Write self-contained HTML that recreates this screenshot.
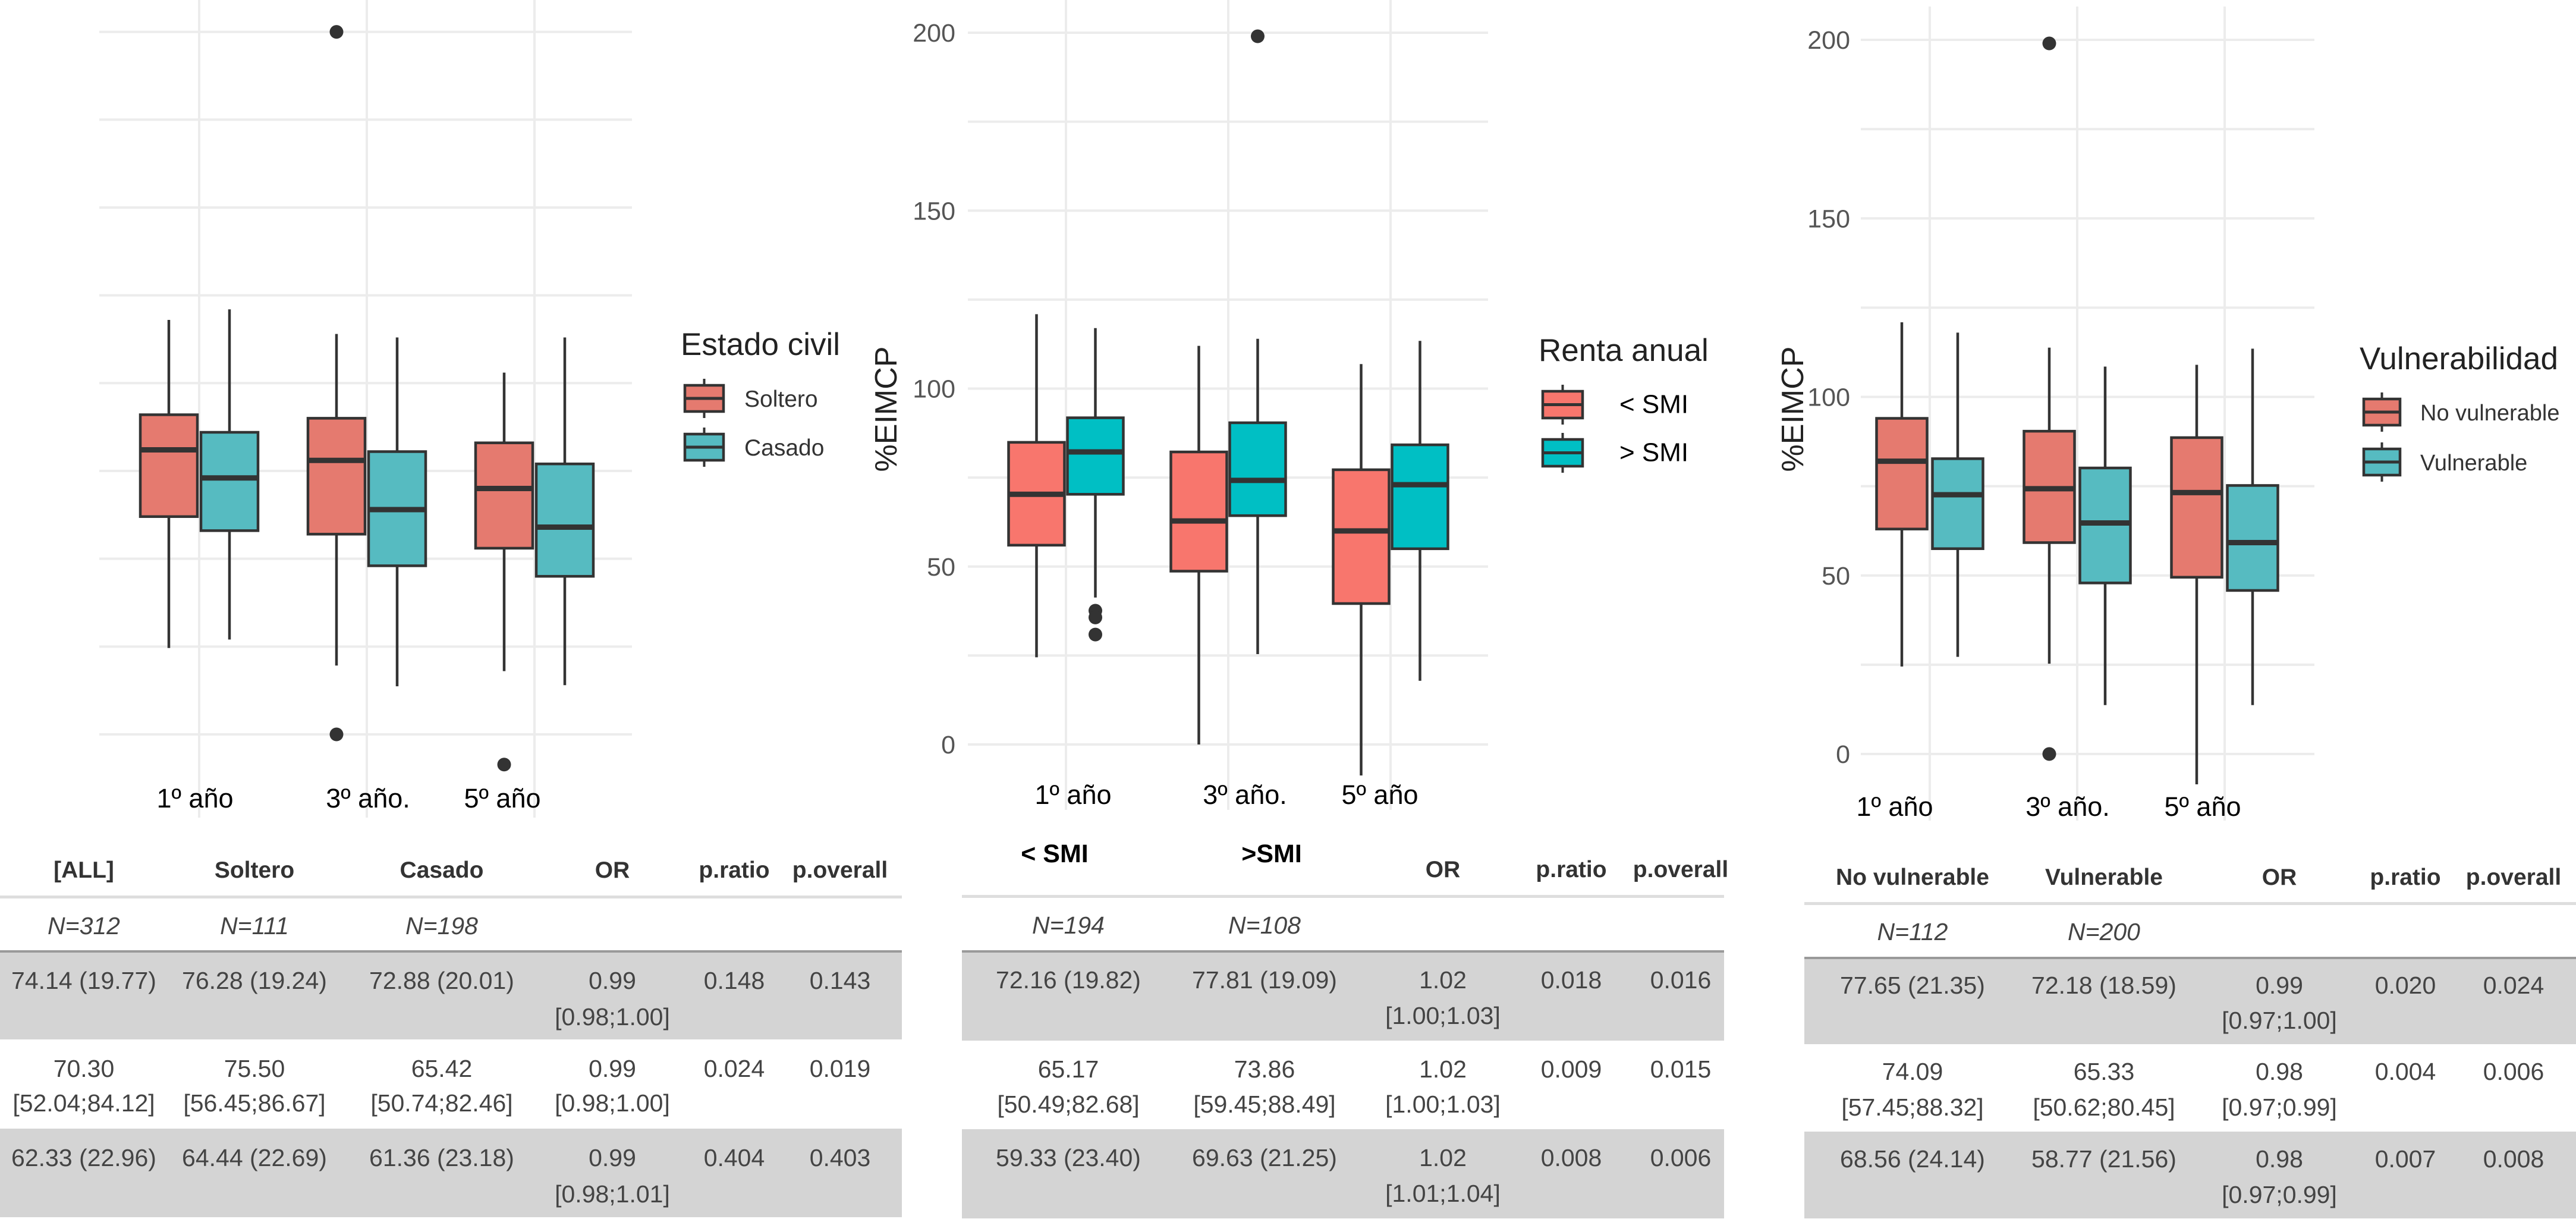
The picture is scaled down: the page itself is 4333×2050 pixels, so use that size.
<!DOCTYPE html>
<html><head><meta charset="utf-8">
<style>
html,body{margin:0;padding:0;background:#fff;}
svg{display:block;}
text{font-family:"Liberation Sans",Arial,sans-serif;}
</style></head>
<body>
<svg id="root" xmlns="http://www.w3.org/2000/svg" width="4333" height="2050" viewBox="0 0 4333 2050">
<rect x="0" y="0" width="4333" height="2050" fill="#fff"/>
<g id="charts"></g>
<g id="tables"></g>
</svg>
<script>
// ---- shared categories ----
const years = ["1º año", "3º año.", "5º año"];
const ticks = [0, 50, 100, 150, 200];
const gridVals = [0, 25, 50, 75, 100, 125, 150, 175, 200];

// ---- Panel 1: Estado civil ----
const p1Legend = ["Soltero", "Casado"];
const p1RedHi = [118, 114, 103];
const p1RedQ3 = [91, 90, 83];
const p1RedMed = [81, 78, 70];
const p1RedQ1 = [62, 57, 53];
const p1RedLo = [24.6, 19.6, 18];
const p1RedOutGroup = [1, 1, 2];
const p1RedOutVal = [200, 0, -8.6];
const p1TealHi = [121, 113, 113];
const p1TealQ3 = [86, 80.5, 77];
const p1TealMed = [73, 64, 59];
const p1TealQ1 = [58, 48, 45];
const p1TealLo = [27, 13.7, 14];
const p1TealOutGroup = [];
const p1TealOutVal = [];

// ---- Panel 2: Renta anual ----
const p2Legend = ["< SMI", "> SMI"];
const p2RedHi = [120.9, 112, 106.9];
const p2RedQ3 = [84.9, 82.2, 77.2];
const p2RedMed = [70.3, 62.8, 60];
const p2RedQ1 = [56, 48.7, 39.6];
const p2RedLo = [24.5, 0, -8.7];
const p2RedOutGroup = [];
const p2RedOutVal = [];
const p2TealHi = [117, 114, 113.4];
const p2TealQ3 = [91.8, 90.4, 84.2];
const p2TealMed = [82.2, 74.2, 73];
const p2TealQ1 = [70.3, 64.3, 55];
const p2TealLo = [41.3, 25.4, 17.9];
const p2TealOutGroup = [0, 0, 0, 1];
const p2TealOutVal = [37.6, 35.7, 30.9, 199];

// ---- Panel 3: Vulnerabilidad ----
const p3Legend = ["No vulnerable", "Vulnerable"];
const p3RedHi = [120.9, 113.8, 109];
const p3RedQ3 = [94, 90.4, 88.6];
const p3RedMed = [82, 74.3, 73.2];
const p3RedQ1 = [63, 59.2, 49.5];
const p3RedLo = [24.5, 25.3, -8.5];
const p3RedOutGroup = [1, 1];
const p3RedOutVal = [199, 0];
const p3TealHi = [118, 108.5, 113.5];
const p3TealQ3 = [82.7, 80.1, 75.2];
const p3TealMed = [72.6, 64.7, 59.2];
const p3TealQ1 = [57.5, 47.9, 45.8];
const p3TealLo = [27.2, 13.7, 13.7];
const p3TealOutGroup = [];
const p3TealOutVal = [];

const NS = "http://www.w3.org/2000/svg";
function mk(tag, attrs, parent) {
  const e = document.createElementNS(NS, tag);
  for (const k in attrs) e.setAttribute(k, attrs[k]);
  parent.appendChild(e);
  return e;
}
const charts = document.getElementById("charts");

function drawPanel(cfg) {
  const g = mk("g", {}, charts);
  
  
  const y = v => cfg.y0 + (cfg.y200 - cfg.y0) * v / 200;
  const gx = i => cfg.groupX[0] + i * (cfg.groupX[1] - cfg.groupX[0]);
  gridVals.forEach(v => {
    const l = mk("line", {x1: cfg.plotL, x2: cfg.plotR, y1: y(v), y2: y(v), stroke: "#ececec", "stroke-width": 4}, g);
    
    
  });
  years.forEach((yr, i) => {
    const l = mk("line", {x1: gx(i), x2: gx(i), y1: cfg.vTop, y2: cfg.vBot, stroke: "#ececec", "stroke-width": 4}, g);
    
    
  });
  if (cfg.showTicks) {
    ticks.forEach(v => {
      const t = mk("text", {x: cfg.tickX, y: y(v) + 15, "text-anchor": "end", "font-size": 43, fill: "#555"}, g);
      t.textContent = v;
      
      
    });
    const yt = mk("text", {x: 0, y: 0, transform: `translate(${cfg.titleX},${cfg.titleY}) rotate(-90)`, "text-anchor": "middle", "font-size": 52, fill: "#222"}, g);
    yt.textContent = "%EIMCP";
    
    
  }
  years.forEach((yr, i) => {
    const t = mk("text", {x: cfg.labelX[i], y: cfg.labelY, "text-anchor": "middle", "font-size": 45, fill: "#000"}, g);
    t.textContent = yr;
    
    
  });
  const series = [
    {off: -cfg.off, fill: cfg.red, hi: cfg.r[0], q3: cfg.r[1], med: cfg.r[2], q1: cfg.r[3], lo: cfg.r[4], og: cfg.r[5], ov: cfg.r[6], nm: "red"},
    {off: cfg.off, fill: cfg.teal, hi: cfg.t[0], q3: cfg.t[1], med: cfg.t[2], q1: cfg.t[3], lo: cfg.t[4], og: cfg.t[5], ov: cfg.t[6], nm: "teal"}
  ];
  series.forEach(s => {
    years.forEach((yr, i) => {
      const cx = gx(i) + s.off;
      const bg = mk("g", {}, g);
      
      
      const w1 = mk("line", {x1: cx, x2: cx, y1: y(s.hi[i]), y2: y(s.q3[i]), stroke: "#333", "stroke-width": 4.5}, bg);
      
      
      const w2 = mk("line", {x1: cx, x2: cx, y1: y(s.q1[i]), y2: y(s.lo[i]), stroke: "#333", "stroke-width": 4.5}, bg);
      
      
      const r = mk("rect", {x: cx - cfg.bw / 2, y: y(s.q3[i]), width: cfg.bw, height: y(s.q1[i]) - y(s.q3[i]), fill: s.fill, stroke: "#333", "stroke-width": 4.5}, bg);
      
      
      const m = mk("line", {x1: cx - cfg.bw / 2, x2: cx + cfg.bw / 2, y1: y(s.med[i]), y2: y(s.med[i]), stroke: "#333", "stroke-width": 9}, bg);
      
      
    });
    s.og.forEach((gi, k) => {
      const c = mk("circle", {cx: gx(gi) + s.off, cy: y(s.ov[k]), r: 11.5, fill: "#333"}, g);
      
      
    });
  });
  const lg = mk("g", {}, g);
  
  
  const tt = mk("text", {x: cfg.legX, y: cfg.legTitleY, "font-size": 53, fill: "#222"}, lg);
  tt.textContent = cfg.legTitle;
  
  
  [cfg.red, cfg.teal].forEach((col, k) => {
    const e = mk("g", {}, lg);
    
    
    const top = cfg.keyY[k], kx = cfg.keyX, kw = cfg.keyW, kh = cfg.keyH;
    const mx = kx + kw / 2;
    mk("line", {x1: mx, x2: mx, y1: top - 11, y2: top + kh + 11, stroke: "#333", "stroke-width": 4}, e);
    const kr = mk("rect", {x: kx, y: top, width: kw, height: kh, fill: col, stroke: "#333", "stroke-width": 4.5}, e);
    
    
    mk("line", {x1: kx, x2: kx + kw, y1: top + kh / 2, y2: top + kh / 2, stroke: "#333", "stroke-width": 5}, e);
    const lt = mk("text", {x: cfg.legLabelX, y: top + kh / 2 + 14, "font-size": cfg.legFont, fill: cfg.legColor}, e);
    lt.textContent = cfg.legend[k];
    
    
  });
}

drawPanel({name: "chart-estado-civil", y0: 1235, y200: 53.6, plotL: 167, plotR: 1063, groupX: [335, 617], vTop: 0, vBot: 1375,
  off: 51, bw: 96, red: "#e57a6f", teal: "#56bbc1", showTicks: false,
  labelX: [328, 619, 845], labelY: 1358,
  r: [p1RedHi, p1RedQ3, p1RedMed, p1RedQ1, p1RedLo, p1RedOutGroup, p1RedOutVal],
  t: [p1TealHi, p1TealQ3, p1TealMed, p1TealQ1, p1TealLo, p1TealOutGroup, p1TealOutVal],
  legTitle: "Estado civil", legend: p1Legend, legX: 1145, legTitleY: 597, keyX: 1152, keyW: 65, keyH: 44, keyY: [648, 730],
  legLabelX: 1252, legFont: 39, legColor: "#333"});

drawPanel({name: "chart-renta-anual", y0: 1252, y200: 55, plotL: 1628, plotR: 2503, groupX: [1793, 2066], vTop: 0, vBot: 1362,
  off: 49.5, bw: 94, red: "#f8766d", teal: "#00bfc4", showTicks: true, tickX: 1607, titleX: 1508, titleY: 688,
  labelX: [1805, 2094, 2321], labelY: 1352,
  r: [p2RedHi, p2RedQ3, p2RedMed, p2RedQ1, p2RedLo, p2RedOutGroup, p2RedOutVal],
  t: [p2TealHi, p2TealQ3, p2TealMed, p2TealQ1, p2TealLo, p2TealOutGroup, p2TealOutVal],
  legTitle: "Renta anual", legend: p2Legend, legX: 2588, legTitleY: 607, keyX: 2595, keyW: 67, keyH: 45, keyY: [658, 739],
  legLabelX: 2724, legFont: 44, legColor: "#000"});

drawPanel({name: "chart-vulnerabilidad", y0: 1268, y200: 67, plotL: 3130, plotR: 3893, groupX: [3246, 3494], vTop: 11, vBot: 1380,
  off: 47, bw: 85, red: "#e57a6f", teal: "#56bbc1", showTicks: true, tickX: 3112, titleX: 3033, titleY: 688,
  labelX: [3187, 3478, 3705], labelY: 1372,
  r: [p3RedHi, p3RedQ3, p3RedMed, p3RedQ1, p3RedLo, p3RedOutGroup, p3RedOutVal],
  t: [p3TealHi, p3TealQ3, p3TealMed, p3TealQ1, p3TealLo, p3TealOutGroup, p3TealOutVal],
  legTitle: "Vulnerabilidad", legend: p3Legend, legX: 3969, legTitleY: 621, keyX: 3976, keyW: 61, keyH: 44, keyY: [671, 755],
  legLabelX: 4071, legFont: 38, legColor: "#333"});

// ---- Tables ----
const tables = document.getElementById("tables");
const t1Head = ["[ALL]", "Soltero", "Casado", "OR", "p.ratio", "p.overall"];
const t1N = ["N=312", "N=111", "N=198"];
const t1Rows = [
  [["74.14 (19.77)"], ["76.28 (19.24)"], ["72.88 (20.01)"], ["0.99", "[0.98;1.00]"], ["0.148"], ["0.143"]],
  [["70.30", "[52.04;84.12]"], ["75.50", "[56.45;86.67]"], ["65.42", "[50.74;82.46]"], ["0.99", "[0.98;1.00]"], ["0.024"], ["0.019"]],
  [["62.33 (22.96)"], ["64.44 (22.69)"], ["61.36 (23.18)"], ["0.99", "[0.98;1.01]"], ["0.404"], ["0.403"]]
];
const t2Head = ["< SMI", ">SMI", "OR", "p.ratio", "p.overall"];
const t2N = ["N=194", "N=108"];
const t2Rows = [
  [["72.16 (19.82)"], ["77.81 (19.09)"], ["1.02", "[1.00;1.03]"], ["0.018"], ["0.016"]],
  [["65.17", "[50.49;82.68]"], ["73.86", "[59.45;88.49]"], ["1.02", "[1.00;1.03]"], ["0.009"], ["0.015"]],
  [["59.33 (23.40)"], ["69.63 (21.25)"], ["1.02", "[1.01;1.04]"], ["0.008"], ["0.006"]]
];
const t3Head = ["No vulnerable", "Vulnerable", "OR", "p.ratio", "p.overall"];
const t3N = ["N=112", "N=200"];
const t3Rows = [
  [["77.65 (21.35)"], ["72.18 (18.59)"], ["0.99", "[0.97;1.00]"], ["0.020"], ["0.024"]],
  [["74.09", "[57.45;88.32]"], ["65.33", "[50.62;80.45]"], ["0.98", "[0.97;0.99]"], ["0.004"], ["0.006"]],
  [["68.56 (24.14)"], ["58.77 (21.56)"], ["0.98", "[0.97;0.99]"], ["0.007"], ["0.008"]]
];

function drawTable(c) {
  const g = mk("g", {}, tables);
  
  
  c.grayRows.forEach(([a, b]) => {
    const r = mk("rect", {x: c.x0, y: a, width: c.x1 - c.x0, height: b - a, fill: "#d4d4d4"}, g);
    
    
  });
  const l1 = mk("rect", {x: c.x0, y: c.headLine - 2, width: c.x1 - c.x0, height: 5, fill: "#dedede"}, g);
  
  
  const l2 = mk("rect", {x: c.x0, y: c.nLine - 2, width: c.x1 - c.x0, height: 4, fill: "#9a9a9a"}, g);
  
  
  c.head.forEach((h, i) => {
    const special = c.calibriHead && i < c.calibriHead;
    const t = mk("text", {x: c.headX[i], y: (special ? c.calibriY : c.headY) + 14, "text-anchor": "middle", "font-size": special ? 43 : 39, "font-weight": "bold", fill: special ? "#000" : "#333"}, g);
    t.textContent = h;
    
    
  });
  c.n.forEach((n, i) => {
    const t = mk("text", {x: c.colX[i], y: c.nY + 15, "text-anchor": "middle", "font-size": 41, "font-style": "italic", fill: "#444"}, g);
    t.textContent = n;
    
    
  });
  c.rows.forEach((row, ri) => {
    row.forEach((cell, ci) => {
      cell.forEach((line, li) => {
        const t = mk("text", {x: c.colX[ci], y: c.rowY[ri][li] + 15, "text-anchor": "middle", "font-size": 41, fill: "#444"}, g);
        t.textContent = line;
        
        
      });
    });
  });
}

drawTable({name: "table-estado-civil", x0: 0, x1: 1517, head: t1Head, n: t1N, rows: t1Rows,
  headX: [141, 428, 743, 1030, 1235, 1413], colX: [141, 428, 743, 1030, 1235, 1413],
  headY: 1462, headLine: 1508, nY: 1556, nLine: 1600, grayRows: [[1602, 1748], [1898, 2047]],
  rowY: [[1648, 1709], [1796, 1854], [1946, 2007]]});

drawTable({name: "table-renta-anual", x0: 1618, x1: 2900, head: t2Head, n: t2N, rows: t2Rows,
  headX: [1774, 2139, 2427, 2643, 2827], colX: [1797, 2127, 2427, 2643, 2827], calibriHead: 2, calibriY: 1436,
  headY: 1461, headLine: 1507, nY: 1555, nLine: 1600, grayRows: [[1602, 1750], [1899, 2049]],
  rowY: [[1647, 1707], [1797, 1856], [1946, 2006]]});

drawTable({name: "table-vulnerabilidad", x0: 3035, x1: 4333, head: t3Head, n: t3N, rows: t3Rows,
  headX: [3217, 3539, 3834, 4046, 4228], colX: [3217, 3539, 3834, 4046, 4228],
  headY: 1474, headLine: 1519, nY: 1566, nLine: 1611, grayRows: [[1613, 1756], [1903, 2049]],
  rowY: [[1656, 1715], [1801, 1861], [1948, 2008]]});
</script>
</body></html>
